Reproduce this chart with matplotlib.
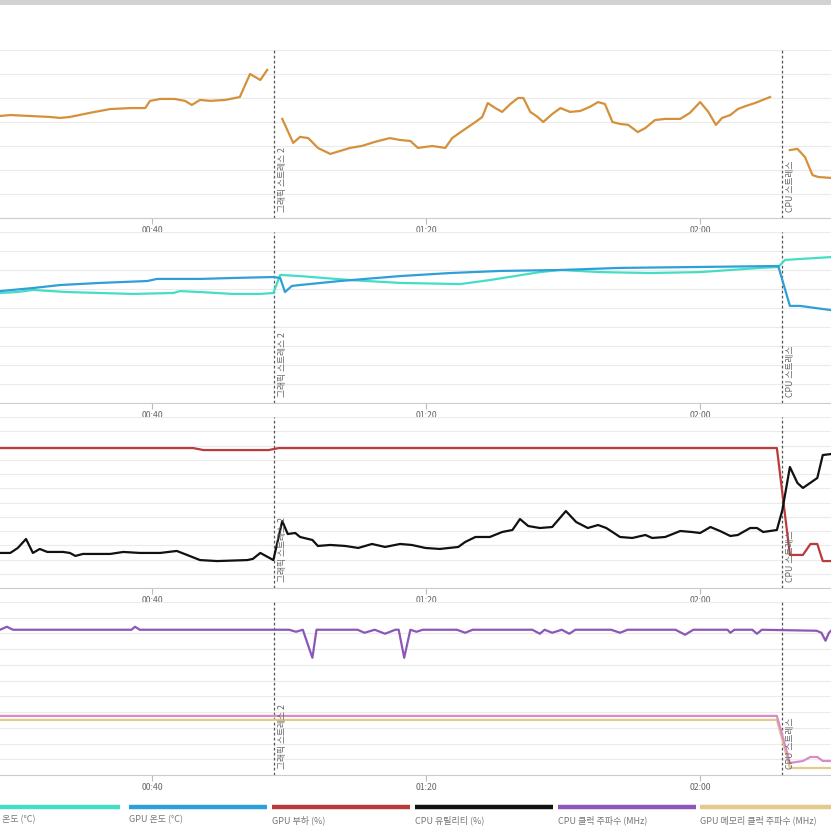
import numpy as np
import matplotlib.pyplot as plt
from matplotlib.lines import Line2D
from matplotlib.patches import Rectangle

plt.rcParams['font.family'] = ['Noto Sans CJK KR', 'DejaVu Sans']

# time axis in minutes since start
x_range = (17.8, 139.1)
tick_minutes = [40, 80, 120]
tick_labels = ['00:40', '01:20', '02:00']
event_minutes = [57.8, 132.0]
event_labels = ['그래픽 스트레스 2', 'CPU 스트레스']

# panel 1 - orange series, three separate segments
orange_t_a = [17.8, 19.3, 22.2, 25.1, 26.6, 28.0, 30.9, 33.9, 36.8, 39.0, 39.7, 41.2, 43.3, 44.8,
              45.8, 47.0, 48.5, 50.7, 52.8, 54.3, 55.8, 56.8]
orange_v_a = [42.5, 42.9, 42.5, 42.1, 41.7, 42.1, 43.8, 45.4, 45.8, 45.8, 48.8, 49.6, 49.6, 48.8,
              47.1, 49.2, 48.8, 49.2, 50.4, 60.0, 57.5, 61.7]
orange_t_b = [59.0, 60.6, 61.6, 62.8, 64.2, 66.0, 67.4, 68.9, 70.6, 72.5, 74.7, 76.2, 77.7, 78.8,
              80.9, 82.8, 83.8, 85.3, 87.2, 88.2, 89.0, 90.1, 91.1, 92.3, 93.4, 94.2, 95.2, 96.1,
              97.1, 98.4, 99.6, 101.0, 102.5, 103.9, 105.1, 106.1, 107.2, 108.3, 109.5, 110.9,
              112.0, 113.4, 114.9, 117.1, 118.5, 120.0, 121.2, 122.3, 123.2, 124.4, 125.5, 126.7,
              128.0, 130.2]
orange_v_b = [41.3, 31.3, 33.8, 33.3, 29.2, 26.7, 27.9, 29.2, 30.0, 31.7, 33.3, 32.5, 32.1, 29.2,
              30.0, 29.2, 33.3, 36.3, 40.0, 42.1, 47.9, 45.8, 44.2, 47.5, 50.0, 50.0, 44.2, 42.5,
              40.0, 43.3, 45.8, 44.2, 44.6, 46.3, 48.3, 47.5, 40.0, 39.2, 38.8, 35.8,
              37.5, 40.8, 41.3, 41.3, 43.8, 48.3, 44.2, 38.8, 41.7, 42.9, 45.4, 46.7,
              47.9, 50.4]
orange_t_c = [133.1, 134.2, 135.3, 136.4, 137.2, 139.1]
orange_v_c = [28.3, 28.8, 25.4, 17.9, 17.1, 16.7]

# panel 2 - temperatures
cpu_temp_t = [17.8, 20.3, 22.6, 27.6, 32.4, 37.2, 43.1, 44.1, 47.0, 51.8, 55.8, 57.7, 58.7, 61.6,
              68.9, 76.2, 85.0, 89.3, 96.6, 99.6, 105.4, 112.7, 120.0, 128.8, 131.4, 132.4,
              134.6, 139.1]
cpu_temp_v = [57.9, 58.4, 59.5, 58.4, 57.9, 57.4, 57.9, 58.9, 58.4, 57.4, 57.4, 57.9, 67.4, 66.8,
              64.7, 63.2, 62.6, 64.7, 68.9, 70.0, 68.9, 68.4, 68.9, 71.1, 71.6, 75.3,
              75.8, 76.8]
gpu_temp_t = [17.8, 22.6, 26.6, 32.4, 39.3, 40.7, 47.0, 51.8, 57.7, 58.7, 59.4, 60.4, 61.6, 67.4,
              76.2, 83.5, 90.8, 99.6, 108.3, 120.0, 131.4, 133.1, 134.6, 136.8, 139.1]
gpu_temp_v = [58.9, 60.5, 62.1, 63.2, 64.2, 65.3, 65.3, 65.8, 66.3, 65.8, 58.4, 61.6, 62.1, 64.2,
              66.8, 68.4, 69.5, 70.0, 71.1, 71.6, 72.1, 51.1, 51.1, 50.0, 48.9]

# panel 3 - load / utility (%)
gpu_load_t = [17.8, 46.0, 47.5, 57.0, 58.5, 131.2, 133.1, 135.0, 136.1, 137.1, 137.9, 139.1]
gpu_load_v = [98.2, 98.2, 96.8, 96.8, 98.2, 98.2, 23.2, 23.2, 30.9, 30.9, 18.9, 18.9]
cpu_util_t = [17.8, 19.3, 20.4, 21.6, 22.6, 23.6, 24.7, 27.0, 28.0, 28.8, 29.9, 33.9, 35.8, 38.2,
              41.2, 43.6, 45.1, 47.0, 49.5, 53.9, 54.7, 55.8, 57.7, 59.0, 59.8, 60.9, 61.6,
              63.4, 64.2, 66.0, 68.2, 70.1, 72.1, 74.0, 76.2, 77.9, 79.9, 82.0, 84.7, 85.7,
              87.2, 89.3, 91.1, 92.6, 93.7, 94.9, 96.6, 98.4, 100.4, 101.9, 103.6, 105.1,
              106.3, 107.2, 108.3, 110.1, 112.0, 113.0, 114.9, 117.1, 118.8, 120.0, 121.5,
              122.9, 124.4, 125.5, 127.3, 128.3, 129.2, 131.2, 132.0, 133.1, 134.2, 135.0,
              137.1, 137.9, 139.1]
cpu_util_v = [24.6, 24.6, 28.1, 34.4, 24.6, 27.4, 25.3, 25.3, 24.6, 22.5, 23.9, 23.9, 25.3, 24.6,
              24.6, 26.0, 23.2, 19.6, 18.9, 19.6, 20.4, 24.6, 19.6, 47.0, 37.9, 38.6, 35.8,
              33.7, 29.5, 30.2, 29.5, 28.1, 30.9, 28.8, 30.9, 30.2, 28.1, 27.4, 28.8, 32.3,
              35.8, 35.8, 39.3, 40.7, 48.4, 43.5, 42.1, 42.8, 54.0, 46.3, 42.1, 44.2,
              42.1, 39.3, 35.8, 35.1, 37.2, 35.1, 35.8, 40.0, 39.3, 38.6, 42.8,
              40.0, 36.5, 37.2, 42.1, 42.1, 39.3, 40.7, 54.7, 84.9, 73.7, 70.2,
              77.2, 93.3, 94.0]

# panel 4 - clocks (MHz)
cpu_clock_t = [17.8, 18.8, 19.7, 20.6, 37.0, 37.5, 38.2, 60.0, 61.0, 62.0, 63.4, 64.0, 65.0,
               70.0, 71.0, 72.5, 74.0, 75.5, 76.0, 76.8, 77.7, 78.6, 79.5, 84.5, 85.7, 86.8,
               95.5, 96.6, 97.3, 98.4, 99.8, 100.9, 101.8, 107.0, 108.3, 109.4, 116.4, 117.8,
               119.0, 124.0, 124.4, 125.0, 127.6, 128.3, 129.0, 137.0, 137.7, 138.3, 138.8,
               139.1]
cpu_clock_v = [4618, 4713, 4618, 4618, 4618, 4713, 4618, 4618, 4554, 4618, 3726, 4618, 4618,
               4618, 4522, 4618, 4491, 4618, 4618, 3726, 4618, 4554, 4618, 4618, 4522, 4618,
               4618, 4491, 4618, 4522, 4618, 4491, 4618, 4618, 4522, 4618, 4618, 4459,
               4618, 4618, 4522, 4618, 4618, 4491, 4618, 4586, 4522, 4268, 4522, 4586]
gpu_clock_t = [17.8, 131.2, 133.1, 135.0, 136.1, 137.1, 137.9, 139.1]
gpu_clock_v = [1879, 1879, 382, 446, 573, 573, 446, 446]
gpu_mem_clock_t = [17.8, 131.2, 133.1, 139.1]
gpu_mem_clock_v = [1752, 1752, 223, 223]

legend_labels = ['CPU 온도 (°C)', 'GPU 온도 (°C)', 'GPU 부하 (%)', 'CPU 유틸리티 (%)',
                 'CPU 클럭 주파수 (MHz)', 'GPU 메모리 클럭 주파수 (MHz)']
legend_colors = ['#44DEC6', '#2F9FD8', '#B83B3D', '#111111', '#8B58B8', '#E3C98C']

ORANGE = '#D4913A'
PINK = '#D98CC6'

W = 831


def frac(px):
    return px / W


def setup(ax, ymax, step):
    ax.set_xlim(*x_range)
    ax.set_ylim(0, ymax)
    ax.set_yticks(np.arange(0, ymax + step / 2, step))
    ax.grid(axis='y', color='#ebebeb', lw=0.8)
    ax.set_axisbelow(True)
    ax.tick_params(axis='y', length=0, labelleft=False)
    ax.set_xticks(tick_minutes)
    ax.set_xticklabels(tick_labels)
    ax.tick_params(axis='x', length=4, width=0.8, color='#bbbbbb', labelsize=6.3,
                   labelcolor='#666666', pad=2)
    for s in ['top', 'left', 'right']:
        ax.spines[s].set_visible(False)
    ax.spines['bottom'].set_color('#cccccc')
    for t, lab in zip(event_minutes, event_labels):
        ax.axvline(t, color='#555555', lw=0.9, ls=(0, (2.2, 1.8)), zorder=1)
        ax.annotate(lab, xy=(t, 0), xycoords=('data', 'axes fraction'), xytext=(2.5, 4.5),
                    textcoords='offset points', rotation=90, ha='left', va='bottom',
                    fontsize=6.3, color='#666666')


fig = plt.figure(figsize=(8.31, 8.31), dpi=100)
fig.patch.set_facecolor('white')

# panel boxes in pixels: (bottom, top)
boxes = [(218, 50), (403, 232), (588, 417), (775, 602)]
axes = [fig.add_axes([0, 1 - frac(b), 1, frac(b - t)]) for b, t in boxes]
ax1, ax2, ax3, ax4 = axes

setup(ax1, 70, 10)
ax1.plot(orange_t_a, orange_v_a, color=ORANGE, lw=1.6)
ax1.plot(orange_t_b, orange_v_b, color=ORANGE, lw=1.6)
ax1.plot(orange_t_c, orange_v_c, color=ORANGE, lw=1.6)

setup(ax2, 90, 10)
ax2.plot(cpu_temp_t, cpu_temp_v, color=legend_colors[0], lw=1.6)
ax2.plot(gpu_temp_t, gpu_temp_v, color=legend_colors[1], lw=1.6)

setup(ax3, 120, 10)
ax3.plot(gpu_load_t, gpu_load_v, color=legend_colors[2], lw=1.6)
ax3.plot(cpu_util_t, cpu_util_v, color=legend_colors[3], lw=1.6)

setup(ax4, 5500, 500)
ax4.plot(cpu_clock_t, cpu_clock_v, color=legend_colors[4], lw=1.6)
ax4.plot(gpu_mem_clock_t, gpu_mem_clock_v, color=legend_colors[5], lw=1.6)
ax4.plot(gpu_clock_t, gpu_clock_v, color=PINK, lw=1.6)

# browser strip at the very top of the screenshot
fig.add_artist(Rectangle((0, 1 - frac(5)), 1, frac(5), transform=fig.transFigure,
                         color='#d2d2d2', lw=0))

# legend drawn as colored bars with captions underneath
bar_starts = [-18, 129, 272, 415, 558, 700]
bar_len = 138
for x0, lab, col in zip(bar_starts, legend_labels, legend_colors):
    fig.add_artist(Line2D([frac(x0), frac(x0 + bar_len)], [1 - frac(807)] * 2,
                          transform=fig.transFigure, color=col, lw=3.2,
                          solid_capstyle='butt'))
    fig.text(frac(x0), 1 - frac(820), lab, fontsize=6.5, color='#777777',
             ha='left', va='center')

fig.savefig('out.png', dpi=100)
